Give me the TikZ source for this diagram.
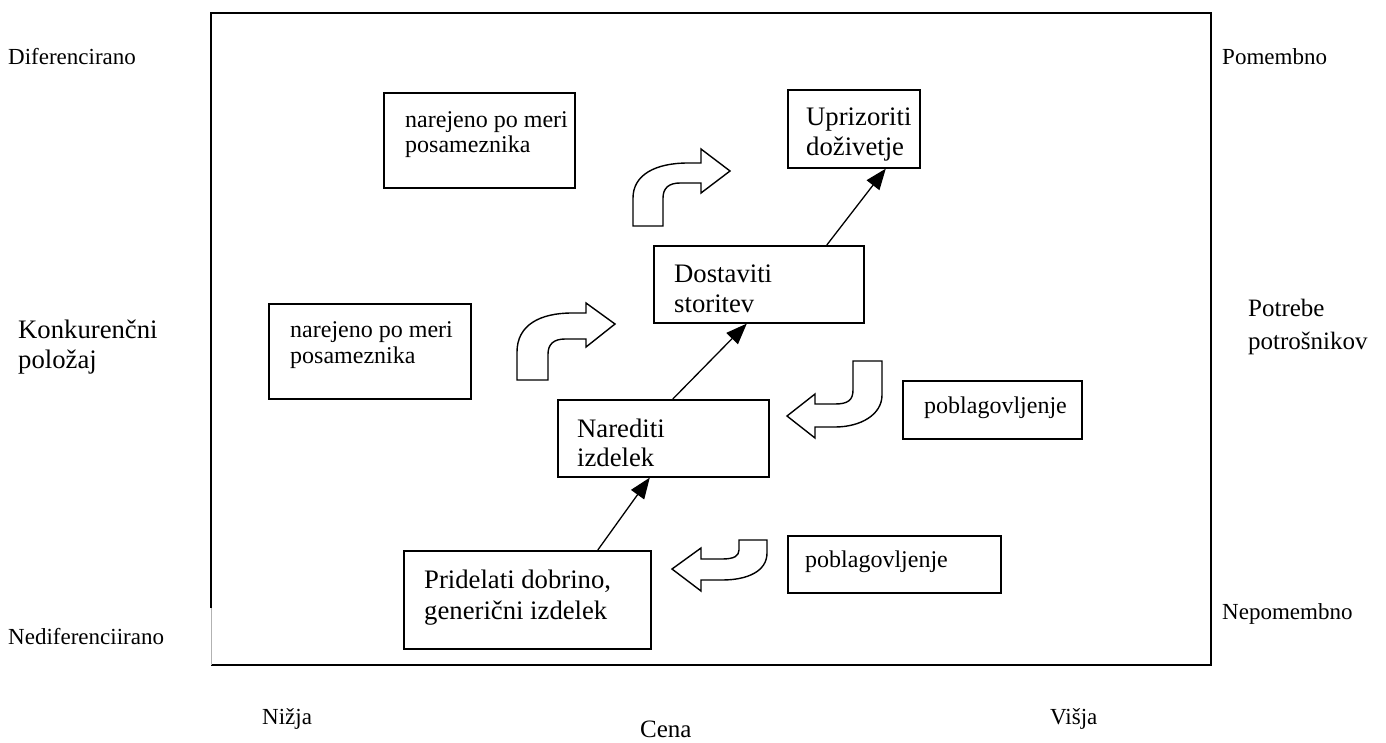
\documentclass[tikz,border=0pt]{standalone}
\usepackage{fontspec}
\setmainfont{Liberation Serif}
\usetikzlibrary{arrows.meta}
\tikzset{
  box/.style={draw, line width=1.6pt, minimum width=#1, anchor=north west, inner sep=0pt},
  lab/.style={anchor=base west, inner sep=0pt, font=\fontsize{23}{27}\selectfont},
  boxlab/.style={anchor=base west, inner sep=0pt, font=\fontsize{24}{28}\selectfont},
  big/.style={anchor=base west, inner sep=0pt, font=\fontsize{26.7}{30}\selectfont},
  mid/.style={anchor=base west, inner sep=0pt, font=\fontsize{25}{29}\selectfont},
  conn/.style={line width=1.3pt, -{Triangle[length=21pt,width=16pt]}},
  bentarrow/.style={draw, line width=1.4pt, fill=white, line join=miter},
}
\begin{document}
\begin{tikzpicture}[x=1pt,y=-1pt]
\useasboundingbox (0,0) rectangle (1386,742);
% outer frame
\draw[line width=2pt] (211,608) -- (211,13) -- (1211,13) -- (1211,665) -- (211,665);
\draw[line width=0.8pt, black!30] (211,608) -- (211,665);
% side labels
\node[lab] at (8,64) {Diferencirano};
\node[big] at (18,338) {Konkurenčni};
\node[big] at (18,368) {položaj};
\node[lab] at (8,644) {Nediferenciirano};
\node[lab] at (1222,64) {Pomembno};
\node[mid] at (1248,316) {Potrebe};
\node[mid] at (1248,349) {potrošnikov};
\node[lab] at (1222,619) {Nepomembno};
\node[lab] at (262,724) {Nižja};
\node[mid] at (640,737) {Cena};
\node[lab] at (1050,724) {Višja};
% boxes
\node[box=191pt, minimum height=95pt] (cusA) at (383,92) {};
\node[boxlab] at (405,127) {narejeno po meri};
\node[boxlab] at (405,152) {posameznika};
\node[box=132pt, minimum height=78pt] (upr) at (787,89) {};
\node[big] at (806,125) {Uprizoriti};
\node[big] at (806,155) {doživetje};
\node[box=210pt, minimum height=77pt] (dos) at (653,245) {};
\node[big] at (674,282) {Dostaviti};
\node[big] at (674,312) {storitev};
\node[box=202pt, minimum height=95pt] (cusB) at (268,303) {};
\node[boxlab] at (290,337) {narejeno po meri};
\node[boxlab] at (290,363) {posameznika};
\node[box=179pt, minimum height=58pt] (pobA) at (902,380) {};
\node[boxlab] at (924,413) {poblagovljenje};
\node[box=211pt, minimum height=77pt] (nar) at (557,399) {};
\node[big] at (577,437) {Narediti};
\node[big] at (577,466) {izdelek};
\node[box=213pt, minimum height=57pt] (pobB) at (787,535) {};
\node[boxlab] at (805,567) {poblagovljenje};
\node[box=247pt, minimum height=98pt] (pri) at (403,550) {};
\node[big] at (424,588) {Pridelati dobrino,};
\node[big] at (424,619) {generični izdelek};
% connectors
\draw[conn] ([xshift=70.5pt]pri.north) -- ([xshift=-13.5pt]nar.south);
\draw[conn] ([xshift=9.5pt]nar.north) -- ([xshift=-12pt]dos.south);
\draw[conn] ([xshift=68pt]dos.north) -- ([xshift=32pt]upr.south);
% bent arrows
\path[bentarrow] (633,226) -- (633,198) .. controls (633,175) and (655,163) .. (688,163) -- (701,163) -- (701,149) -- (730,171) -- (701,193) -- (701,183) -- (680,183) .. controls (669,183) and (663,188) .. (663,198) -- (663,226) -- cycle;
\path[bentarrow] (517,380) -- (517,352) .. controls (517,325) and (540,313) .. (572,313) -- (586,313) -- (586,303) -- (615,324) -- (586,347) -- (586,339) -- (565,339) .. controls (554,339) and (548,344) .. (548,354) -- (548,380) -- cycle;
\path[bentarrow] (853,361) -- (882,361) -- (882,395) .. controls (882,415) and (860,427) .. (835,427) -- (815,427) -- (815,438) -- (787,416) -- (815,394) -- (815,404) -- (835,404) .. controls (848,404) and (853,400) .. (853,390) -- cycle;
\path[bentarrow] (739,540) -- (767,540) -- (767,553) .. controls (767,571) and (748,580) .. (722,580) -- (701,580) -- (701,591) -- (672,569) -- (701,548) -- (701,559) -- (722,559) .. controls (734,559) and (739,556) .. (739,550) -- cycle;
\end{tikzpicture}
\end{document}
